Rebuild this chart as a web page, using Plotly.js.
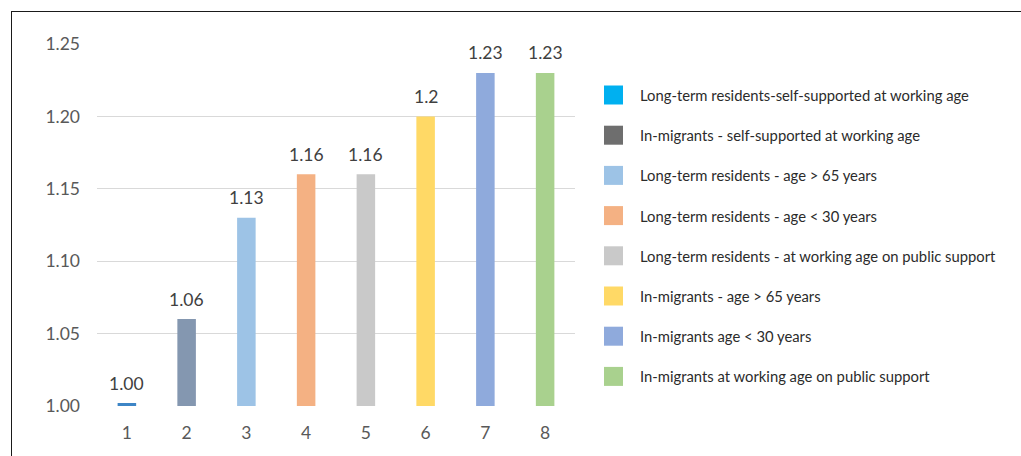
<!DOCTYPE html>
<html>
<head>
<meta charset="utf-8">
<script src="https://cdn.plot.ly/plotly-3.0.1.min.js"></script>
<style>
  html, body { margin: 0; padding: 0; background: #fff; }
  #wrap { position: relative; width: 1021px; height: 456px; overflow: hidden; }
  #chart { position: absolute; left: 0; top: 0; width: 1021px; height: 456px; }
  #frame { position: absolute; left: 11px; top: 11px; right: -5px; bottom: -5px;
           border-left: 1.5px solid #1a1a1a; border-top: 1.5px solid #1a1a1a; pointer-events: none; }
</style>
</head>
<body>
<div id="wrap">
  <div id="chart"></div>
  <div id="frame"></div>
</div>
<script>
// ---- data ----
const categories = ["1", "2", "3", "4", "5", "6", "7", "8"];
const values = [1.002, 1.06, 1.13, 1.16, 1.16, 1.20, 1.23, 1.23];
const valueLabels = ["1.00", "1.06", "1.13", "1.16", "1.16", "1.2", "1.23", "1.23"];
const barColors = ["#3d85c6", "#8497b0", "#9dc3e6", "#f4b183", "#c9c9c9", "#ffd966", "#8faadc", "#a9d18e"];
const legendNames = [
  "Long-term residents-self-supported at working age",
  "In-migrants - self-supported at working age",
  "Long-term residents - age > 65 years",
  "Long-term residents - age < 30 years",
  "Long-term residents - at working age on public support",
  "In-migrants - age > 65 years",
  "In-migrants age < 30 years",
  "In-migrants at working age on public support"
];
const legendColors = ["#00b0f0", "#6e6e6e", "#9dc3e6", "#f4b183", "#c9c9c9", "#ffd966", "#8faadc", "#a9d18e"];
const yTicks = [1.00, 1.05, 1.10, 1.15, 1.20, 1.25];
const yTickText = ["1.00", "1.05", "1.10", "1.15", "1.20", "1.25"];

// ---- layout geometry ----
const W = 1021, H = 456;
const M = { l: 97, r: 446, t: 44, b: 50 };
const plotW = W - M.l - M.r, plotH = H - M.t - M.b;
const FONT = "Lato, 'Open Sans', sans-serif";

const trace = {
  type: "bar",
  x: categories,
  y: values,
  width: 0.31,
  marker: { color: barColors },
  hoverinfo: "x+y",
  showlegend: false
};

// value labels above the bars (x given as category index)
const annotations = categories.map((c, i) => ({
  x: i, y: values[i], xref: "x", yref: "y",
  text: valueLabels[i], showarrow: false,
  yanchor: "middle", yshift: 20,
  font: { family: FONT, size: 17.5, color: "#404040" }
}));

// manual legend built from the legend arrays
const shapes = [];
const legX0 = 604, legSq = 19, legTextX = 638, legY0 = 95, legStep = 40.2;
const px2x = px => (px - M.l) / plotW;
const py2y = py => (H - M.b - py) / plotH;
legendNames.forEach((name, i) => {
  const cy = legY0 + i * legStep;
  shapes.push({
    type: "rect", xref: "paper", yref: "paper",
    x0: px2x(legX0), x1: px2x(legX0 + legSq),
    y0: py2y(cy + legSq / 2), y1: py2y(cy - legSq / 2),
    fillcolor: legendColors[i], line: { width: 0 }
  });
  annotations.push({
    xref: "paper", yref: "paper", x: px2x(legTextX), y: py2y(cy),
    xanchor: "left", yanchor: "middle", showarrow: false,
    text: name, font: { family: FONT, size: 14.8, color: "#2b2b2b" }
  });
});

const layout = {
  width: W, height: H,
  margin: M,
  paper_bgcolor: "#ffffff", plot_bgcolor: "#ffffff",
  font: { family: FONT, color: "#595959" },
  xaxis: {
    type: "category",
    range: [-0.5, 7.5],
    tickfont: { family: FONT, size: 17.5, color: "#595959" },
    showgrid: false, zeroline: false,
    showline: false, ticks: "", ticklen: 0,
    ticklabelstandoff: 14,
    automargin: false
  },
  yaxis: {
    range: [1.0, 1.25],
    tickvals: yTicks, ticktext: yTickText,
    tickfont: { family: FONT, size: 17.5, color: "#595959" },
    showgrid: true, gridcolor: "#d9d9d9", gridwidth: 1,
    zeroline: false, showline: false, ticks: "",
    ticklabelstandoff: 16,
    automargin: false
  },
  annotations: annotations,
  shapes: shapes,
  showlegend: false
};

Plotly.newPlot("chart", [trace], layout, { displayModeBar: false, staticPlot: true });
</script>
</body>
</html>
